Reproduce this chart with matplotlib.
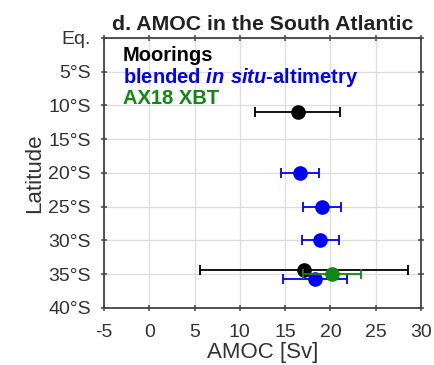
import numpy as np
import matplotlib.pyplot as plt

plt.rcParams['font.family'] = ['Liberation Sans', 'DejaVu Sans']
plt.rcParams['mathtext.fontset'] = 'custom'
plt.rcParams['mathtext.rm'] = 'Liberation Sans'
plt.rcParams['mathtext.bf'] = 'Liberation Sans:bold'
plt.rcParams['mathtext.bfit'] = 'Liberation Sans:italic:bold'

# Moorings
moor_lat = [-11.0, -34.4]
moor_amoc = [16.4, 17.1]
moor_err = [4.7, 11.5]

# blended in situ-altimetry
blend_lat = [-20.0, -25.0, -30.0, -35.7]
blend_amoc = [16.6, 19.1, 18.9, 18.3]
blend_err = [2.1, 2.1, 2.0, 3.5]

# AX18 XBT
xbt_lat = [-35.0]
xbt_amoc = [20.2]
xbt_err = [3.2]

lat_ticks = [0, -5, -10, -15, -20, -25, -30, -35, -40]
lat_labels = ['Eq.', '5°S', '10°S', '15°S', '20°S', '25°S', '30°S', '35°S', '40°S']
x_ticks = [-5, 0, 5, 10, 15, 20, 25, 30]

fig = plt.figure(figsize=(4.34, 3.65), dpi=100)
ax = fig.add_axes([0.2396, 0.1562, 0.7304, 0.7397])

blue = '#0000ff'
green = '#118811'

ax.errorbar(moor_amoc, moor_lat, xerr=moor_err, fmt='o', color='black',
            ms=9.5, capsize=3.5, elinewidth=1.3, capthick=1.3, zorder=3)
ax.errorbar(blend_amoc, blend_lat, xerr=blend_err, fmt='o', color=blue,
            ms=9.5, capsize=3.5, elinewidth=1.3, capthick=1.3, zorder=4)
ax.errorbar(xbt_amoc, xbt_lat, xerr=xbt_err, fmt='o', color=green,
            ms=9.5, capsize=3.5, elinewidth=1.3, capthick=1.3, zorder=5)

ax.set_xlim(-5, 30)
ax.set_ylim(-40, 0)
ax.set_xticks(x_ticks)
ax.set_xticklabels([str(t) for t in x_ticks])
ax.set_yticks(lat_ticks)
ax.set_yticklabels(lat_labels)

ax.grid(True, color='#dddddd', linewidth=0.9)
ax.set_axisbelow(True)
for s in ax.spines.values():
    s.set_color('#444444')
    s.set_linewidth(1.3)
ax.tick_params(direction='inout', length=5, width=1.1, color='#444444',
               labelsize=14, labelcolor='#333333', top=True, right=True)
ax.tick_params(axis='x', pad=9)
ax.tick_params(axis='y', pad=7)

ax.set_xlabel('AMOC [Sv]', fontsize=16, color='#333333', labelpad=1)
ax.set_ylabel('Latitude', fontsize=16, color='#333333', labelpad=2)
ax.set_title('d. AMOC in the South Atlantic', fontsize=15.3, fontweight='bold',
             color='#222222', pad=6)

# legend written as coloured text
ax.text(0.06, 0.913, 'Moorings', transform=ax.transAxes, fontsize=14.5,
        fontweight='bold', color='black', va='baseline')
ax.text(0.06, 0.835, r'blended $\bfit{in\ situ}$-altimetry',
        transform=ax.transAxes, fontsize=14.5, fontweight='bold', color=blue,
        va='baseline')
ax.text(0.06, 0.755, 'AX18 XBT', transform=ax.transAxes, fontsize=14.5,
        fontweight='bold', color=green, va='baseline')

fig.savefig('out.png', dpi=100)
